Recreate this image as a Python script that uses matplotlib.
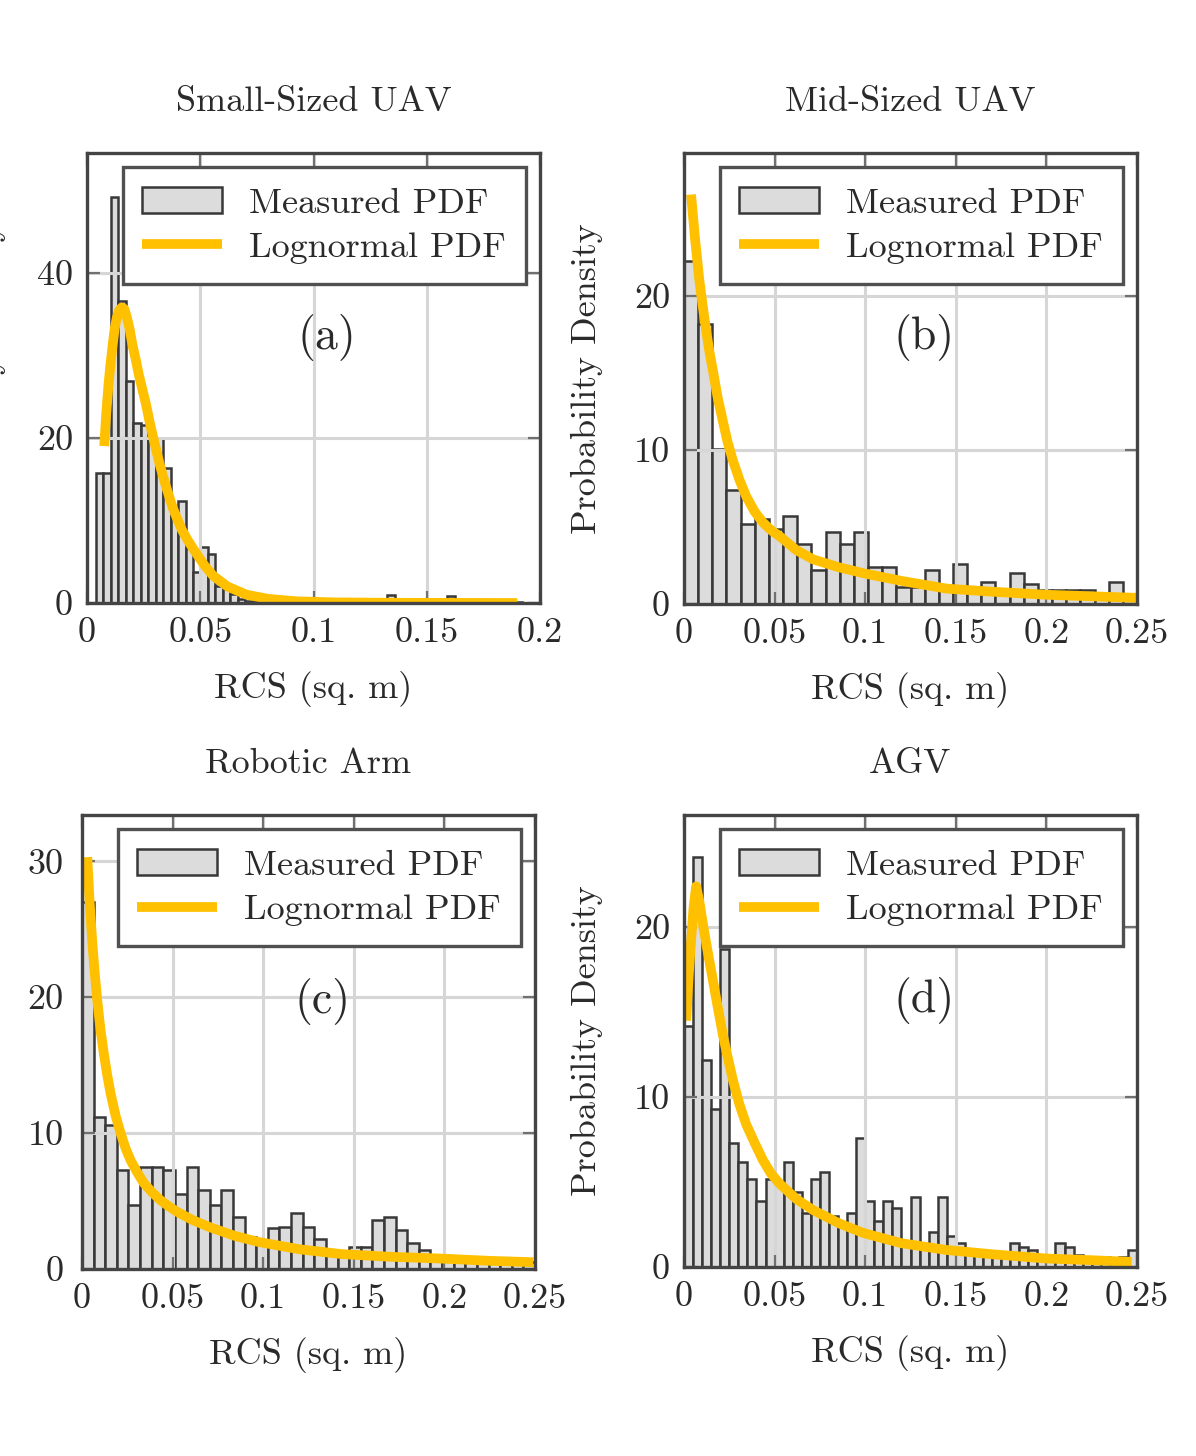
import matplotlib
matplotlib.use("Agg")
import numpy as np
import matplotlib.pyplot as plt

plt.rcParams['font.family'] = 'cmr10'
plt.rcParams['mathtext.fontset'] = 'cm'
plt.rcParams['axes.formatter.use_mathtext'] = True

# ---------------- data ----------------
titles = ["Small-Sized UAV", "Mid-Sized UAV", "Robotic Arm", "AGV"]
panel_tags = ["(a)", "(b)", "(c)", "(d)"]
legend_labels = ["Measured PDF", "Lognormal PDF"]
x_label = "RCS (sq. m)"
y_label = "Probability Density"

# Panel (a) histogram: bin start, bin width, heights
a_bin_start = 0.0039
a_bin_width = 0.0033
a_heights = [15.8, 15.8, 49.2, 36.6, 26.9, 21.8, 21.5, 20.0, 20.0, 16.4, 10.5, 12.3, 6.7, 3.7, 6.8, 5.9, 2.1,
             1.7, 1.1, 0.5, 0.3, 0.3, 0.2, 0.2, 0.1, 0.1, 0.1, 0.1, 0.1, 0.0,
             0.0, 0.1, 0.0, 0.0, 0.1, 0.0, 0.0, 0.1, 0.2, 1.0, 0.2, 0.0, 0.1, 0.0, 0.0, 0.2, 0.3, 0.8,
             0.3, 0.0, 0.1, 0.0, 0.0, 0.1, 0.0, 0.0, 0.1, 0.0]
a_fit_x = [0.0076, 0.0085, 0.0095, 0.0104, 0.0113, 0.0122, 0.0132, 0.0143, 0.0154, 0.0165, 0.0176, 0.0188,
           0.0201, 0.0215, 0.0230, 0.0245, 0.0261, 0.0275, 0.0290, 0.0305, 0.0320, 0.0335, 0.0350, 0.0365,
           0.0379, 0.0395, 0.0420, 0.0445, 0.0468, 0.0495, 0.0520, 0.0557, 0.0620, 0.0705, 0.0800, 0.0927,
           0.1100, 0.1400, 0.1900]
a_fit_y = [19.0, 23.0, 26.5, 29.0, 31.2, 33.2, 34.6, 35.5, 35.8, 35.6, 34.6, 33.2,
           31.2, 29.5, 27.5, 25.8, 24.0, 22.1, 20.3, 18.6, 16.9, 15.4, 14.0, 12.7,
           11.5, 10.4, 8.8, 7.6, 6.6, 5.5, 4.5, 3.3, 2.0, 1.0, 0.5, 0.2,
           0.07, 0.02, 0.0]
a_xticks = [0, 0.05, 0.1, 0.15, 0.2]
a_xticklabels = ["0", "0.05", "0.1", "0.15", "0.2"]
a_yticks = [0, 20, 40]
a_xlim = (0, 0.2)
a_ylim = (0, 54.5)

# Panel (b)
b_bin_start = 0.0
b_bin_width = 0.25 / 32
b_heights = [22.3, 18.2, 10.1, 7.4, 5.2, 5.5, 4.9, 5.7, 3.9, 2.2, 4.7, 3.9, 4.7, 2.4, 2.4, 1.1,
             1.1, 2.2, 1.1, 2.6, 0.9, 1.45, 0.7, 2.0, 1.3, 0.9, 0.9, 0.9, 0.9, 0.6, 1.45, 0.6]
b_fit_x = [0.0039, 0.0062, 0.0085, 0.0104, 0.0122, 0.0140, 0.0159, 0.0186, 0.0214, 0.0241, 0.0269,
           0.0305, 0.0343, 0.0390, 0.0435, 0.0480, 0.0528, 0.0620, 0.0712, 0.0850, 0.0990, 0.1200,
           0.1450, 0.1700, 0.2000, 0.2250, 0.2500]
b_fit_y = [26.6, 23.6, 21.0, 19.3, 17.8, 16.4, 15.2, 13.4, 11.9, 10.5, 9.35,
           8.1, 7.0, 6.0, 5.3, 4.8, 4.4, 3.5, 2.9, 2.4, 2.0, 1.5,
           1.0, 0.8, 0.6, 0.5, 0.4]
b_xticks = [0, 0.05, 0.1, 0.15, 0.2, 0.25]
b_xticklabels = ["0", "0.05", "0.1", "0.15", "0.2", "0.25"]
b_yticks = [0, 10, 20]
b_xlim = (0, 0.25)
b_ylim = (0, 29.3)

# Panel (c)
c_bin_start = 0.0
c_bin_width = 0.25 / 39
c_heights = [27.0, 11.2, 10.6, 7.3, 4.7, 7.5, 7.5, 7.3, 5.5, 7.5, 5.8, 4.7, 5.8, 3.8, 2.35, 2.1, 3.0,
             3.1, 4.1, 3.1, 2.2, 1.1, 0.9, 1.6, 1.6, 3.6, 3.8, 2.9, 1.9, 1.4, 0.9, 0.7, 0.6, 0.6,
             0.6, 0.6, 0.6, 0.5, 0.5]
c_fit_x = [0.0029, 0.0042, 0.0056, 0.0070, 0.0084, 0.0102, 0.0121, 0.0140, 0.0158, 0.0185, 0.0213,
           0.0240, 0.0268, 0.0305, 0.0342, 0.0390, 0.0434, 0.0480, 0.0526, 0.0610, 0.0710, 0.0840,
           0.0970, 0.1200, 0.1430, 0.1700, 0.1980, 0.2250, 0.2490]
c_fit_y = [30.3, 27.0, 24.2, 21.8, 19.8, 17.6, 15.8, 14.2, 12.9, 11.3, 10.0,
           8.9, 8.0, 7.1, 6.3, 5.6, 5.05, 4.6, 4.2, 3.6, 3.05, 2.45,
           2.0, 1.45, 1.1, 0.9, 0.77, 0.6, 0.5]
c_xticks = [0, 0.05, 0.1, 0.15, 0.2, 0.25]
c_xticklabels = ["0", "0.05", "0.1", "0.15", "0.2", "0.25"]
c_yticks = [0, 10, 20, 30]
c_xlim = (0, 0.25)
c_ylim = (0, 33.4)

# Panel (d)
d_bin_start = 0.0
d_bin_width = 0.005
d_heights = [14.2, 24.1, 12.2, 9.3, 18.7, 7.3, 6.2, 5.2, 3.9, 5.2, 4.8, 6.2, 4.4, 3.2, 5.2, 5.6, 3.0,
             2.4, 3.2, 7.6, 3.9, 2.7, 3.9, 3.45, 1.3, 4.1, 1.3, 2.06, 4.1, 1.8, 1.4, 1.0, 0.8, 0.8,
             0.7, 0.7, 1.4, 1.2, 1.0, 0.7, 0.7, 1.4, 1.2, 0.7, 0.6, 0.6, 0.6, 0.5, 0.6, 1.0]
d_fit_x = [0.0012, 0.0025, 0.0039, 0.0053, 0.0067, 0.0085, 0.0104, 0.0130, 0.0159, 0.0186, 0.0214,
           0.0242, 0.0270, 0.0305, 0.0343, 0.0390, 0.0435, 0.0480, 0.0528, 0.0620, 0.0712, 0.0860,
           0.0990, 0.1200, 0.1450, 0.1700, 0.2000, 0.2250, 0.2470]
d_fit_y = [14.5, 17.0, 19.2, 21.2, 22.4, 21.5, 20.2, 18.6, 16.9, 15.3, 13.7,
           12.3, 11.0, 9.6, 8.4, 7.3, 6.3, 5.5, 4.9, 4.0, 3.35, 2.55,
           2.0, 1.4, 1.0, 0.75, 0.5, 0.4, 0.3]
d_xticks = [0, 0.05, 0.1, 0.15, 0.2, 0.25]
d_xticklabels = ["0", "0.05", "0.1", "0.15", "0.2", "0.25"]
d_yticks = [0, 10, 20]
d_xlim = (0, 0.25)
d_ylim = (0, 26.6)

# ---------------- style ----------------
W, H = 1196, 1456
BAR_FACE = "#dcdcdc"
BAR_EDGE = "#383838"
FIT_COLOR = "#FFC000"
TEXT_COLOR = "#2a2a2a"
GRID_COLOR = "#d6d6d6"
SPINE_COLOR = "#444444"
FS = 26

# axes rectangles in pixels: left, top, right, bottom
rects_px = [(87, 153, 540, 603), (684, 153, 1137, 604), (82, 815, 535, 1269), (684, 815, 1137, 1267)]
ytick_pads = [10, 10, 13, 10]

panels = [
    (a_bin_start, a_bin_width, a_heights, a_fit_x, a_fit_y, a_xticks, a_xticklabels, a_yticks, a_xlim, a_ylim),
    (b_bin_start, b_bin_width, b_heights, b_fit_x, b_fit_y, b_xticks, b_xticklabels, b_yticks, b_xlim, b_ylim),
    (c_bin_start, c_bin_width, c_heights, c_fit_x, c_fit_y, c_xticks, c_xticklabels, c_yticks, c_xlim, c_ylim),
    (d_bin_start, d_bin_width, d_heights, d_fit_x, d_fit_y, d_xticks, d_xticklabels, d_yticks, d_xlim, d_ylim),
]

fig = plt.figure(figsize=(W / 100, H / 100), dpi=100)

for i, (start, width, heights, fx, fy, xt, xtl, yt, xl, yl) in enumerate(panels):
    l, t, r, b = rects_px[i]
    ax = fig.add_axes([l / W, 1 - b / H, (r - l) / W, (b - t) / H])
    left_edges = start + width * np.arange(len(heights))
    bars = ax.bar(left_edges, heights, width=width, align='edge', color=BAR_FACE,
                  edgecolor=BAR_EDGE, linewidth=1.8, zorder=1, label=legend_labels[0])
    line, = ax.plot(fx, fy, color=FIT_COLOR, linewidth=7, zorder=3,
                    solid_joinstyle='round', solid_capstyle='butt', label=legend_labels[1])
    ax.set_xlim(*xl)
    ax.set_ylim(*yl)
    ax.set_xticks(xt)
    ax.set_xticklabels(xtl)
    ax.set_yticks(yt)
    ax.set_yticklabels([str(v) for v in yt])
    ax.set_axisbelow(False)
    ax.grid(True, color=GRID_COLOR, linewidth=2.2, zorder=2)
    for sp in ax.spines.values():
        sp.set_color(SPINE_COLOR)
        sp.set_linewidth(2.4)
        sp.set_zorder(4)
    ax.tick_params(direction='in', top=True, right=True, length=9, width=1.6, color='#707070',
                   labelsize=FS, labelcolor=TEXT_COLOR, pad=10)
    ax.tick_params(axis='y', pad=ytick_pads[i])
    ax.set_title(titles[i], fontsize=FS, color=TEXT_COLOR, pad=30)
    ax.set_xlabel(x_label, fontsize=FS, color=TEXT_COLOR, labelpad=16)
    ax.set_ylabel(y_label, fontsize=FS, color=TEXT_COLOR, labelpad=22)
    ax.text(0.53, 0.59, panel_tags[i], transform=ax.transAxes, fontsize=33, color=TEXT_COLOR,
            ha='center', va='center', zorder=3)
    leg = ax.legend(handles=[bars, line], labels=legend_labels, loc='upper right', fontsize=FS,
                    frameon=True, fancybox=False, framealpha=1, edgecolor='#505050',
                    borderaxespad=0.4, handlelength=2.2, handletextpad=0.75, labelspacing=0.34,
                    borderpad=0.55)
    leg.get_frame().set_linewidth(2.4)
    for txt in leg.get_texts():
        txt.set_color(TEXT_COLOR)
    leg.set_zorder(5)

fig.savefig("out.png", dpi=100, facecolor='white')
